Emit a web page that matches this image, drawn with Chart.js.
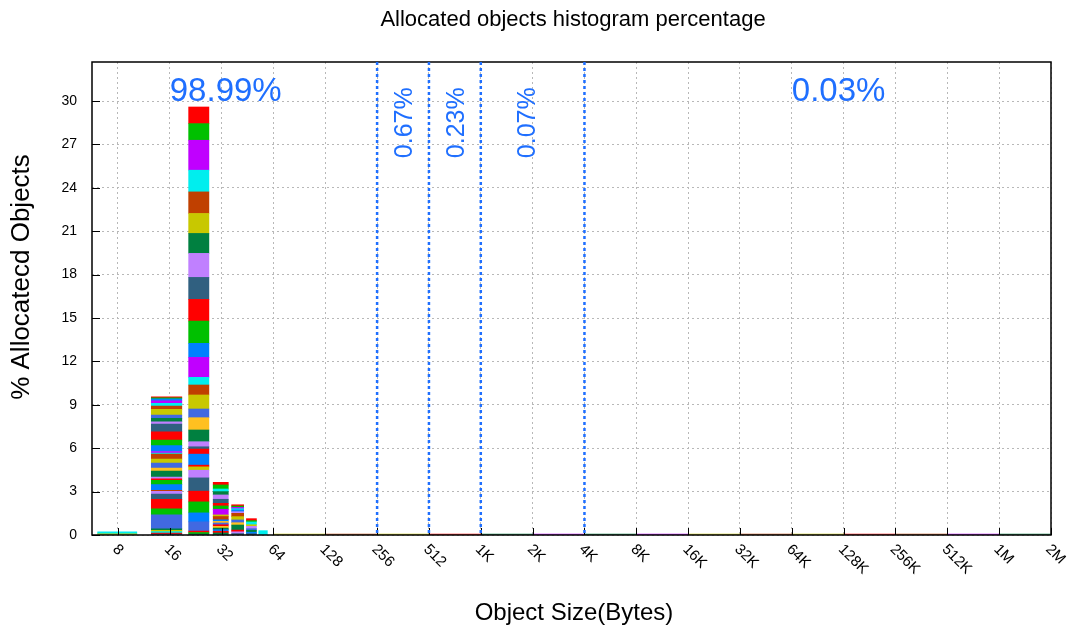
<!DOCTYPE html>
<html>
<head>
<meta charset="utf-8">
<title>Allocated objects histogram percentage</title>
<script src="https://cdn.jsdelivr.net/npm/chart.js@4.4.1/dist/chart.umd.min.js"></script>
<style>
  html, body { margin: 0; padding: 0; background: #fff; }
</style>
</head>
<body>
<canvas id="histChart" width="1075" height="630"></canvas>
<script>
// ---- Data
// size buckets (bytes) that carry visible bars
const bucketSizes = [8, 16, 24, 32, 40, 48, 56];

// stacked segment values (% of allocated objects), listed from the top of the bar down
const seg8 = [0.14, 0.08];
const seg16 = [0.07, 0.07, 0.14, 0.18, 0.19, 0.23, 0.39, 0.23, 0.23, 0.16, 0.53, 0.57, 0.39, 0.41, 0.11, 0.07, 0.35, 0.26,
  0.35, 0.21, 0.41, 0.12, 0.11, 0.30, 0.39, 0.07, 0.19, 0.37, 0.65, 0.41, 0.97, 0.11, 0.09, 0.09, 0.07, 0.07];
const seg24 = [1.15, 1.15, 2.07, 1.50, 1.49, 1.38, 1.38, 1.66, 1.52, 1.50, 1.54, 0.97, 1.38, 0.53, 0.69, 0.97, 0.60, 0.85,
  0.81, 0.35, 0.16, 0.35, 0.76, 0.12, 0.23, 0.53, 0.92, 0.74, 0.76, 0.62, 0.64, 0.10, 0.09, 0.08];
const seg32 = [0.18, 0.28, 0.18, 0.23, 0.30, 0.28, 0.18, 0.23, 0.39, 0.11, 0.23, 0.11, 0.11, 0.12, 0.11, 0.12, 0.11, 0.11, 0.12, 0.14];
const seg40 = [0.09, 0.09, 0.09, 0.09, 0.12, 0.11, 0.23, 0.23, 0.19, 0.16, 0.35, 0.12, 0.12, 0.10];
const seg48 = [0.14, 0.09, 0.19, 0.11, 0.16, 0.11, 0.14, 0.10, 0.09];
const seg56 = [0.30];

// component (column) id of each segment above, same order
const comp8 = [4, 6];
const comp16 = [0, 1, 2, 3, 4, 5, 6, 7, 9, 10, 11, 0, 1, 2, 3, 4, 5, 6, 7, 8, 9, 10, 0, 1, 2, 5, 10, 11, 0, 1, 7, 9, 6, 4, 0, 11];
const comp24 = [0, 1, 3, 4, 5, 6, 9, 10, 11, 0, 1, 2, 3, 4, 5, 6, 7, 8, 9, 10, 11, 0, 2, 0, 6, 10, 11, 0, 1, 2, 7, 0, 1, 9];
const comp32 = [0, 1, 4, 9, 10, 11, 0, 1, 3, 6, 5, 2, 8, 7, 0, 8, 9, 2, 0, 9];
const comp40 = [0, 1, 3, 4, 2, 10, 5, 6, 7, 8, 9, 0, 10, 11];
const comp48 = [0, 1, 4, 6, 10, 7, 9, 2, 11];
const comp56 = [4];

const bucketSegments = [seg8, seg16, seg24, seg32, seg40, seg48, seg56];
const bucketComponents = [comp8, comp16, comp24, comp32, comp40, comp48, comp56];

// the long tail (64 bytes .. 2M): one octave per entry, barely above zero
const tailSizes = [64, 128, 256, 512, 1024, 2048, 4096, 8192, 16384, 32768, 65536, 131072, 262144, 524288, 1048576];
const tailValues = [0.07, 0.07, 0.07, 0.07, 0.07, 0.07, 0.07, 0.07, 0.07, 0.07, 0.07, 0.07, 0.07, 0.07, 0.07];
const tailComponents = [6, 5, 6, 0, 9, 3, 9, 3, 6, 5, 6, 0, 5, 3, 9];

// axes
const xTickSizes = [8, 16, 32, 64, 128, 256, 512, 1024, 2048, 4096, 8192, 16384, 32768, 65536, 131072, 262144, 524288, 1048576, 2097152];
const xTickLabels = ["8", "16", "32", "64", "128", "256", "512", "1K", "2K", "4K", "8K", "16K", "32K", "64K", "128K", "256K", "512K", "1M", "2M"];
const yTicks = [0, 3, 6, 9, 12, 15, 18, 21, 24, 27, 30];

// share of objects per size range
const shareLabels = ["98.99%", "0.67%", "0.23%", "0.07%", "0.03%"];
const shareDividers = [256, 512, 1024, 4096];
const shareLabelX = [16, 373, 745, 1940, 65536];   // bytes: left edge (flat) or centre (upright)
const shareUpright = [false, true, true, true, false];

// ---- Styles
const FONT = "'Liberation Sans', Arial, Helvetica, sans-serif";
const BLUE = "#1f6fff";
const PALETTE = ["#ff0000", "#00c000", "#0080ff", "#c000ff", "#00eeee", "#c04000",
  "#c8c800", "#4169e1", "#ffc020", "#008040", "#c080ff", "#306080"];
const X_MIN = 2.5, X_MAX = 21, Y_MAX = 32.7;
const PAD = { left: 92, right: 24, top: 62, bottom: 95 };
const PX_PER_OCTAVE = (1075 - PAD.left - PAD.right) / (X_MAX - X_MIN);
// box edges around each bucket size, in bytes
const BOX_LO = [1.9, 3.5, 3.4, 3.4, 3.4, 3.4, 3.4];
const BOX_HI = [2.3, 2.8, 3.0, 3.0, 3.0, 3.0, 3.0];

// ---- Datasets: one per stacked segment, bottom segment first
const datasets = [];
bucketSizes.forEach(function (size, b) {
  const lo = Math.log2(size - BOX_LO[b]);
  const hi = Math.log2(size + BOX_HI[b]);
  const vals = bucketSegments[b].slice().reverse();
  const comps = bucketComponents[b].slice().reverse();
  vals.forEach(function (v, k) {
    datasets.push({
      data: [{ x: (lo + hi) / 2, y: v }],
      backgroundColor: PALETTE[comps[k]],
      barThickness: (hi - lo) * PX_PER_OCTAVE,
      borderWidth: 0,
      stack: "hist"
    });
  });
});
tailSizes.forEach(function (size, i) {
  datasets.push({
    data: [{ x: Math.log2(size) + 0.5, y: tailValues[i] }],
    backgroundColor: PALETTE[tailComponents[i]],
    barThickness: PX_PER_OCTAVE,
    borderWidth: 0,
    stack: "hist"
  });
});

const overlay = {
  id: "overlay",
  afterDraw: function (chart) {
    const ctx = chart.ctx;
    const a = chart.chartArea;
    const xs = chart.scales.x;
    const ys = chart.scales.y;
    ctx.save();

    // frame
    ctx.strokeStyle = "#000";
    ctx.lineWidth = 1.5;
    ctx.strokeRect(a.left, a.top, a.right - a.left, a.bottom - a.top);

    // inward tick marks
    ctx.lineWidth = 1;
    ctx.beginPath();
    yTicks.forEach(function (v) {
      const y = Math.round(ys.getPixelForValue(v)) + 0.5;
      ctx.moveTo(a.left, y); ctx.lineTo(a.left + 8, y);
    });
    xTickSizes.forEach(function (s) {
      const x = Math.round(xs.getPixelForValue(Math.log2(s))) + 0.5;
      ctx.moveTo(x, a.bottom); ctx.lineTo(x, a.bottom - 7);
    });
    ctx.stroke();

    // dotted range dividers
    ctx.strokeStyle = BLUE;
    ctx.lineWidth = 2.5;
    ctx.setLineDash([3, 3]);
    shareDividers.forEach(function (s) {
      const x = xs.getPixelForValue(Math.log2(s));
      ctx.beginPath();
      ctx.moveTo(x, a.top); ctx.lineTo(x, a.bottom);
      ctx.stroke();
    });
    ctx.setLineDash([]);

    // range percentages
    ctx.fillStyle = BLUE;
    shareLabels.forEach(function (txt, i) {
      const x = xs.getPixelForValue(Math.log2(shareLabelX[i]));
      if (shareUpright[i]) {
        ctx.save();
        ctx.font = "25px " + FONT;
        ctx.translate(x, ys.getPixelForValue(28.5));
        ctx.rotate(-Math.PI / 2);
        ctx.textAlign = "center";
        ctx.textBaseline = "middle";
        ctx.fillText(txt, 0, 0);
        ctx.restore();
      } else {
        ctx.font = "33px " + FONT;
        ctx.textAlign = "left";
        ctx.textBaseline = "alphabetic";
        ctx.fillText(txt, x, ys.getPixelForValue(30));
      }
    });

    // tick labels
    ctx.fillStyle = "#000";
    ctx.font = "14px " + FONT;
    ctx.textAlign = "right";
    ctx.textBaseline = "middle";
    yTicks.forEach(function (v) {
      ctx.fillText(String(v), a.left - 15, ys.getPixelForValue(v));
    });
    ctx.font = "15px " + FONT;
    ctx.textAlign = "left";
    xTickSizes.forEach(function (s, i) {
      ctx.save();
      ctx.translate(xs.getPixelForValue(Math.log2(s)) - 3, a.bottom + 12);
      ctx.rotate(Math.PI / 4);
      ctx.fillText(xTickLabels[i], 0, 0);
      ctx.restore();
    });

    // titles
    ctx.textAlign = "center";
    ctx.font = "22px " + FONT;
    ctx.fillText("Allocated objects histogram percentage", 573, 20);
    ctx.font = "24px " + FONT;
    ctx.fillText("Object Size(Bytes)", 574, 613);
    ctx.save();
    ctx.font = "26px " + FONT;
    ctx.translate(22, 277);
    ctx.rotate(-Math.PI / 2);
    ctx.fillText("% Allocatecd Objects", 0, 0);
    ctx.restore();

    ctx.restore();
  }
};

new Chart(document.getElementById("histChart"), {
  type: "bar",
  data: { datasets: datasets },
  options: {
    responsive: false,
    animation: false,
    events: [],
    layout: { padding: PAD },
    plugins: { legend: { display: false }, tooltip: { enabled: false } },
    scales: {
      x: {
        type: "linear",
        stacked: true,
        min: X_MIN,
        max: X_MAX,
        offset: false,
        afterBuildTicks: function (axis) {
          axis.ticks = xTickSizes.map(function (s) { return { value: Math.log2(s) }; });
        },
        ticks: { display: false },
        grid: { offset: false, drawTicks: false, color: "#b8b8b8", lineWidth: 1 },
        border: { display: false, dash: [2, 3] }
      },
      y: {
        stacked: true,
        min: 0,
        max: Y_MAX,
        afterBuildTicks: function (axis) {
          axis.ticks = yTicks.map(function (v) { return { value: v }; });
        },
        ticks: { display: false },
        grid: { drawTicks: false, color: "#b8b8b8", lineWidth: 1 },
        border: { display: false, dash: [2, 3] }
      }
    }
  },
  plugins: [overlay]
});
</script>
</body>
</html>
